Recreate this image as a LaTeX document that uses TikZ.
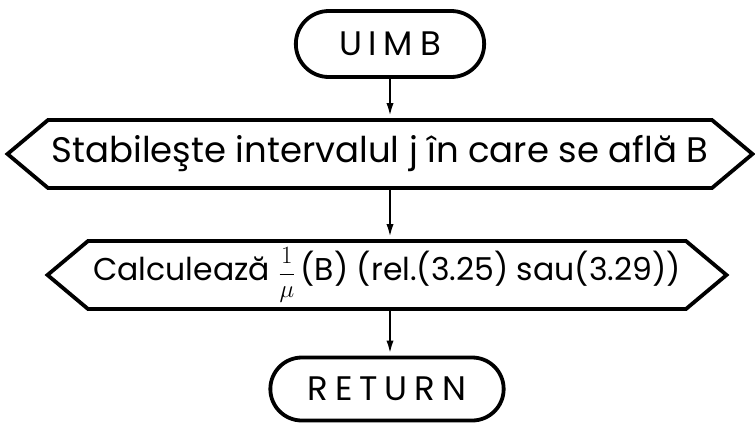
\documentclass[tikz,border=0pt]{standalone}
\usepackage{fontspec}
\setmainfont{Poppins}
\usetikzlibrary{arrows.meta,positioning,shapes.misc,shapes.symbols}

\begin{document}
\begin{tikzpicture}[x=1pt, y=1pt, >={Latex[length=15pt,width=7pt]}, ->, line width=2.8pt]
\tikzstyle{capat} = [draw, -, line width=3.8pt, rounded rectangle, minimum height=66pt, font=\fontsize{34}{34}\selectfont\addfontfeatures{LetterSpace=20}]
\tikzstyle{pas} = [draw, -, line width=3.8pt, signal, signal to=west and east, signal pointer angle=80, minimum height=68pt, inner xsep=0pt, inner ysep=0pt]

\useasboundingbox (0,0) rectangle (755,-429);

\node [capat, minimum width=195pt] (uimb) at (390,-44) {UIMB};

\node [pas, minimum width=745pt, font=\fontsize{35.5}{36}\selectfont] (interval) [below of=uimb, node distance=110pt, xshift=-10pt] {Stabileşte intervalul j în care se află B};
\draw (uimb.south) -- (uimb.south |- interval.north);

\node [pas, minimum width=679pt, font=\fontsize{31.5}{32}\selectfont] (calcul) [below of=interval, node distance=121pt, xshift=7pt] {Calculează $\displaystyle\frac{1}{\mu}$\,(B) (rel.(3.25) sau(3.29))};
\draw (uimb.south |- interval.south) -- (uimb.south |- calcul.north);

\node [capat, minimum width=240pt, minimum height=63pt] (return) [below of=calcul, node distance=114pt] {RETURN};
\draw (uimb.south |- calcul.south) -- (uimb.south |- return.north);
\end{tikzpicture}
\end{document}
